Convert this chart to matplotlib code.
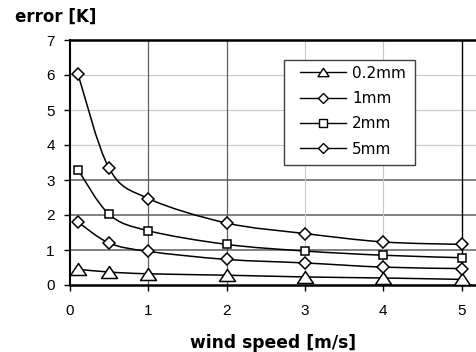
import matplotlib
matplotlib.use("Agg")
import matplotlib.pyplot as plt
import numpy as np
from matplotlib.path import Path
from matplotlib.patches import PathPatch, Rectangle
from matplotlib.lines import Line2D

# wind speed [m/s]
wind = [0.1, 0.5, 1, 2, 3, 4, 5]

# error [K] for each wire diameter
err_02mm = [0.45, 0.37, 0.32, 0.28, 0.23, 0.20, 0.16]
err_1mm = [1.80, 1.20, 0.96, 0.73, 0.63, 0.51, 0.47]
err_2mm = [3.30, 2.02, 1.55, 1.16, 0.97, 0.85, 0.78]
err_5mm = [6.04, 3.33, 2.47, 1.77, 1.47, 1.23, 1.16]

labels = ["0.2mm", "1mm", "2mm", "5mm"]

plt.rcParams["font.family"] = ["Liberation Sans", "DejaVu Sans"]

W, H = 477, 352
fig = plt.figure(figsize=(W / 100, H / 100), dpi=100)
ax = fig.add_axes([70 / W, 67 / H, 1 - 70 / W, 245 / H])


def smooth_path(xs, ys):
    """Excel-like smoothed line: Catmull-Rom spline drawn as cubic Bezier."""
    pts = np.column_stack([xs, ys]).astype(float)
    n = len(pts)
    verts = [pts[0]]
    codes = [Path.MOVETO]
    for i in range(n - 1):
        p0 = pts[i - 1] if i > 0 else pts[i]
        p1, p2 = pts[i], pts[i + 1]
        p3 = pts[i + 2] if i + 2 < n else pts[i + 1]
        c1 = p1 + (p2 - p0) / 6.0
        c2 = p2 - (p3 - p1) / 6.0
        verts += [c1, c2, p2]
        codes += [Path.CURVE4] * 3
    return Path(verts, codes)


# grid (uneven shades as in the original)
for y, c, lw in [(1, "#808080", 1.4), (2, "#808080", 1.4), (3, "#808080", 1.4),
                 (4, "#c8c8c8", 0.8), (5, "#c8c8c8", 0.8), (6, "#c8c8c8", 0.8)]:
    ax.axhline(y, color=c, lw=lw, zorder=0)
for x, c, lw in [(1, "#606060", 0.9), (2, "#606060", 0.9), (3, "#c8c8c8", 0.8),
                 (4, "#c8c8c8", 0.8), (5, "#000000", 1.0)]:
    ax.axvline(x, color=c, lw=lw, zorder=0)

# wide, flat triangle as drawn by the original
tri = Path([(-1.0, -0.75), (1.0, -0.75), (0.0, 0.75), (-1.0, -0.75)],
           [Path.MOVETO, Path.LINETO, Path.LINETO, Path.CLOSEPOLY])
series = [
    (err_02mm, tri, 11.5, 8.0),
    (err_1mm, "D", 6.6, 5.4),
    (err_2mm, "s", 6.2, 5.2),
    (err_5mm, "D", 6.6, 5.4),
]

handles = []
for (vals, mk, ms, ms_leg), lab in zip(series, labels):
    ax.add_patch(PathPatch(smooth_path(wind, vals), fill=False, edgecolor="black",
                           lw=1.1, zorder=2))
    ax.plot(wind, vals, linestyle="none", marker=mk, markersize=ms,
            markerfacecolor="white", markeredgecolor="black", markeredgewidth=1.1,
            zorder=3, clip_on=False)
    handles.append(Line2D([], [], color="black", lw=1.0, marker=mk,
                          markersize=ms_leg, markerfacecolor="white",
                          markeredgecolor="black", markeredgewidth=1.0, label=lab))

ax.set_xlim(0, 407 / 78.34)
ax.set_ylim(0, 7)
ax.set_xticks(range(0, 6))
ax.set_yticks(range(0, 8))

ax.spines["right"].set_visible(False)
ax.spines["top"].set_linewidth(1.8)
ax.spines["bottom"].set_linewidth(1.8)
ax.spines["left"].set_linewidth(1.5)

ax.tick_params(axis="both", direction="out", length=4, width=1.0,
               labelsize=11, colors="black")
ax.tick_params(axis="x", pad=9.5)
ax.tick_params(axis="y", pad=7)

# legend box drawn separately so the inner padding can match the original
fig.patches.append(Rectangle((284 / W, 1 - 165 / H), 131 / W, 105 / H,
                             transform=fig.transFigure, facecolor="white",
                             edgecolor="#404040", lw=1.0, zorder=4))
leg = fig.legend(handles=handles, loc="upper left",
                 bbox_to_anchor=(300 / W, 1 - 65.5 / H), borderaxespad=0,
                 borderpad=0, fontsize=11, handlelength=3.0, handletextpad=0.4,
                 labelspacing=0.68, frameon=False,
                 prop={"family": "DejaVu Sans", "size": 11})
leg.set_zorder(5)

fig.text(15 / W, 1 - 17 / H, "error [K]", fontsize=12, fontweight="bold",
         family="DejaVu Sans", ha="left", va="center")
fig.text((70 + 477) / 2 / W, 1 - 343 / H, "wind speed [m/s]", fontsize=12.3,
         fontweight="bold", family="DejaVu Sans", ha="center", va="center")

fig.savefig("out.png", dpi=100, facecolor="white")
